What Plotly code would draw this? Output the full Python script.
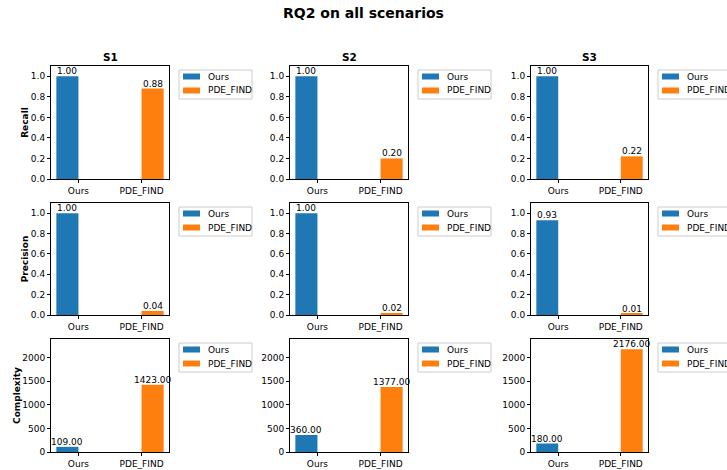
import plotly.graph_objects as go

# ---- data ----
scenarios = ["S1", "S2", "S3"]
methods = ["Ours", "PDE_FIND"]
metrics = ["Recall", "Precision", "Complexity"]
recall_ours = [1.00, 1.00, 1.00]
recall_pde = [0.88, 0.20, 0.22]
precision_ours = [1.00, 1.00, 0.93]
precision_pde = [0.04, 0.02, 0.01]
complexity_ours = [109, 360, 180]
complexity_pde = [1423, 1377, 2176]

values = {
    "Recall": (recall_ours, recall_pde),
    "Precision": (precision_ours, precision_pde),
    "Complexity": (complexity_ours, complexity_pde),
}
colors = ["#1f77b4", "#ff7f0e"]
ytick_step = {"Recall": 0.2, "Precision": 0.2, "Complexity": 500}
ytick_fmt = {"Recall": ".1f", "Precision": ".1f", "Complexity": "d"}

W, H = 727, 470
cols_px = [(51, 169), (290, 408), (531, 648)]
rows_px = [(66, 179), (203, 315), (339, 452)]
bar_w = 0.35
FONT = "DejaVu Sans"
FS = 9

fig = go.Figure()
annotations = []
shapes = []
layout_extra = {}

k = 0
for r, metric in enumerate(metrics):
    ours_vals, pde_vals = values[metric]
    row_max = max(max(ours_vals), max(pde_vals))
    y_top = row_max * 1.1
    for c, scen in enumerate(scenarios):
        k += 1
        xa = "xaxis" if k == 1 else f"xaxis{k}"
        ya = "yaxis" if k == 1 else f"yaxis{k}"
        xr = "x" if k == 1 else f"x{k}"
        yr = "y" if k == 1 else f"y{k}"
        x0, x1 = cols_px[c]
        t0, t1 = rows_px[r]
        xd = [x0 / W, x1 / W]
        yd = [1 - t1 / H, 1 - t0 / H]
        series = [ours_vals[c], pde_vals[c]]
        offsets = [-bar_w, 0.0]
        for i, m in enumerate(methods):
            fig.add_trace(go.Bar(
                x=[i], y=[series[i]], width=bar_w, offset=offsets[i],
                name=m, marker=dict(color=colors[i], line=dict(width=0)),
                xaxis=xr, yaxis=yr, showlegend=False,
            ))
            annotations.append(dict(
                text=f"{series[i]:.2f}", x=i + offsets[i] + bar_w / 2, y=series[i],
                xref=xr, yref=yr, xanchor="center", yanchor="bottom",
                showarrow=False, yshift=-2,
                font=dict(family=FONT, size=FS, color="black"),
            ))
        layout_extra[xa] = dict(
            domain=xd, anchor=yr, range=[-0.435, 1.435],
            tickvals=[0, 1], ticktext=methods,
            showline=True, mirror=True, linecolor="black", linewidth=1,
            ticks="outside", ticklen=3, tickcolor="black",
            showgrid=False, zeroline=False,
            tickfont=dict(family=FONT, size=FS, color="black"),
        )
        ytitle = dict(text=f"<b>{metric}</b>", font=dict(family=FONT, size=FS, color="black"), standoff=0) if c == 0 else None
        layout_extra[ya] = dict(
            domain=yd, anchor=xr, range=[0, y_top],
            dtick=ytick_step[metric], tick0=0, tickformat=ytick_fmt[metric],
            showline=True, mirror=True, linecolor="black", linewidth=1,
            ticks="outside", ticklen=3, tickcolor="black",
            showgrid=False, zeroline=False,
            tickfont=dict(family=FONT, size=FS, color="black"),
            title=ytitle,
        )
        # legend box (matplotlib style) drawn in paper coordinates
        bx0, bx1 = x1 + 10, x1 + 83
        by0, by1 = t0 + 4, t0 + 33
        shapes.append(dict(type="rect", xref="paper", yref="paper",
                           x0=bx0 / W, x1=bx1 / W, y0=1 - by1 / H, y1=1 - by0 / H,
                           line=dict(color="#cccccc", width=1), fillcolor="white", layer="above"))
        for i, m in enumerate(methods):
            cy = t0 + 10.5 + 14 * i
            shapes.append(dict(type="rect", xref="paper", yref="paper",
                               x0=(x1 + 14) / W, x1=(x1 + 31) / W,
                               y0=1 - (cy + 3) / H, y1=1 - (cy - 3) / H,
                               line=dict(width=0), fillcolor=colors[i], layer="above"))
            annotations.append(dict(
                text=m, x=(x1 + 37) / W, y=1 - cy / H, xref="paper", yref="paper",
                xanchor="left", yanchor="middle", showarrow=False,
                font=dict(family=FONT, size=FS, color="black"),
            ))
        if r == 0:
            annotations.append(dict(
                text=f"<b>{scen}</b>", x=(xd[0] + xd[1]) / 2, y=yd[1],
                xref="paper", yref="paper", xanchor="center", yanchor="bottom",
                yshift=1, showarrow=False,
                font=dict(family=FONT, size=10.5, color="black"),
            ))

fig.update_layout(
    width=W, height=H,
    margin=dict(l=0, r=0, t=0, b=0, autoexpand=False),
    paper_bgcolor="white", plot_bgcolor="white",
    barmode="overlay", showlegend=False,
    title=dict(text="<b>RQ2 on all scenarios</b>", x=0.5, xanchor="center",
               y=1 - 13 / H, yanchor="middle",
               font=dict(family=FONT, size=14, color="black")),
    annotations=annotations,
    shapes=shapes,
    **layout_extra,
)

fig.write_html("out.html")
